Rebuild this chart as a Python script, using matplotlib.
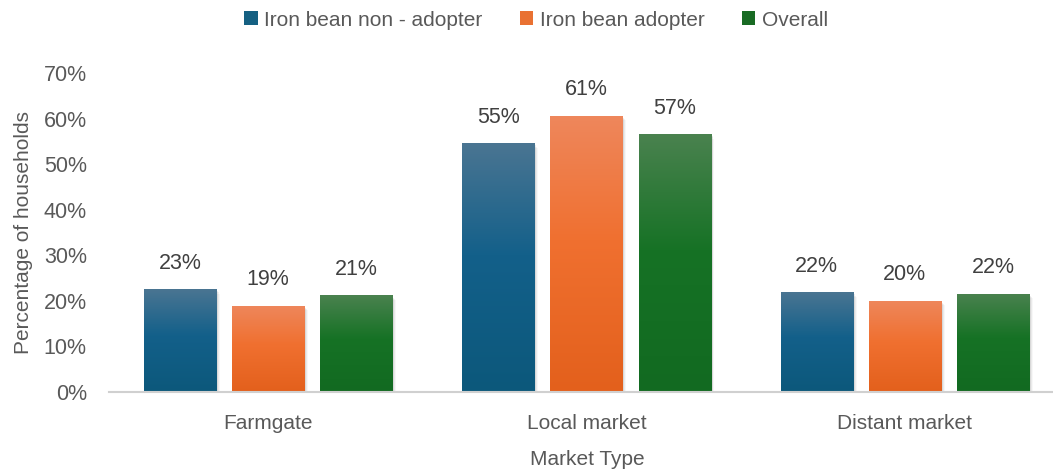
import numpy as np
import matplotlib
matplotlib.use("Agg")
import matplotlib.pyplot as plt
from matplotlib.colors import LinearSegmentedColormap
from matplotlib.patches import Patch

categories = ["Farmgate", "Local market", "Distant market"]
series_names = ["Iron bean non - adopter", "Iron bean adopter", "Overall"]
non_adopter = [22.6, 54.6, 21.9]
adopter = [18.9, 60.6, 20.0]
overall = [21.2, 56.6, 21.6]
y_ticks = [0, 10, 20, 30, 40, 50, 60, 70]

series_values = [non_adopter, adopter, overall]
# (top, middle, bottom) colours for the vertical gradient of each series
gradients = [
    ("#4a7592", "#13608a", "#0c587b"),
    ("#ee875c", "#f07030", "#e3601c"),
    ("#4a824f", "#167225", "#126a21"),
]
legend_colors = ["#156082", "#e97132", "#196b24"]

text_color = "#595959"
plt.rcParams["font.family"] = ["Liberation Sans", "DejaVu Sans"]

fig = plt.figure(figsize=(10.53, 4.73), dpi=100)
W, H = 1053, 473
left, right = 109, 1064
bottom, top = 392, 73
ax = fig.add_axes([left / W, 1 - bottom / H, (right - left) / W, (bottom - top) / H])

x = np.arange(len(categories))
bar_w = 72 / 318
pitch = 88 / 318
offsets = [-pitch, 0, pitch]

ax.set_xlim(-0.5, len(categories) - 0.5)
ax.set_ylim(0, 70)

grad = np.linspace(0, 1, 256).reshape(-1, 1)
for vals, off, cols in zip(series_values, offsets, gradients):
    cmap = LinearSegmentedColormap.from_list("g", [(0, cols[2]), (0.55, cols[1]), (1, cols[0])])
    for xi, v in zip(x, vals):
        x0 = xi + off - bar_w / 2
        # soft drop shadow
        for k, a in zip(range(1, 5), [0.10, 0.07, 0.05, 0.03]):
            dx = k * 0.0015
            ax.add_patch(plt.Rectangle((x0 + dx, -0.25 * k), bar_w + dx, v,
                                       facecolor="black", alpha=a, lw=0, zorder=1.5))
        rect = plt.Rectangle((x0, 0), bar_w, v, facecolor="none", lw=0, zorder=2)
        ax.add_patch(rect)
        im = ax.imshow(grad, extent=(x0, x0 + bar_w, 0, v), origin="lower",
                       cmap=cmap, aspect="auto", zorder=2)
        im.set_clip_path(rect)
        ax.text(xi + off, v + 5.7, f"{v:.0f}%", ha="center", va="center",
                fontsize=15.5, color="#404040", zorder=3)

ax.set_aspect("auto")
ax.set_xlim(-0.5, len(categories) - 0.5)
ax.set_ylim(0, 70)

for s in ["top", "right", "left"]:
    ax.spines[s].set_visible(False)
ax.spines["bottom"].set_color("#d0d0d0")
ax.spines["bottom"].set_linewidth(1.5)
ax.spines["bottom"].set_zorder(4)

ax.set_yticks(y_ticks)
ax.set_yticklabels([f"{t}%" for t in y_ticks], fontsize=15.5, color=text_color)
ax.set_xticks(x)
ax.set_xticklabels(categories, fontsize=15, color=text_color)
ax.tick_params(axis="both", length=0)
ax.tick_params(axis="y", pad=16)
ax.tick_params(axis="x", pad=16)

ax.set_ylabel("Percentage of households", fontsize=15, color=text_color, labelpad=8)
ax.set_xlabel("Market Type", fontsize=15, color=text_color)
ax.xaxis.set_label_coords((587 - left) / (right - left), -(450 - bottom) / (bottom - top))

handles = [Patch(facecolor=c, edgecolor="none") for c in legend_colors]
fig.legend(handles, series_names, loc="center", bbox_to_anchor=(536 / W, 1 - 20 / H),
           ncol=3, frameon=False, fontsize=15, labelcolor=text_color,
           handlelength=0.65, handleheight=0.65, handletextpad=0.3, columnspacing=1.8)

fig.savefig("out.png", dpi=100)
